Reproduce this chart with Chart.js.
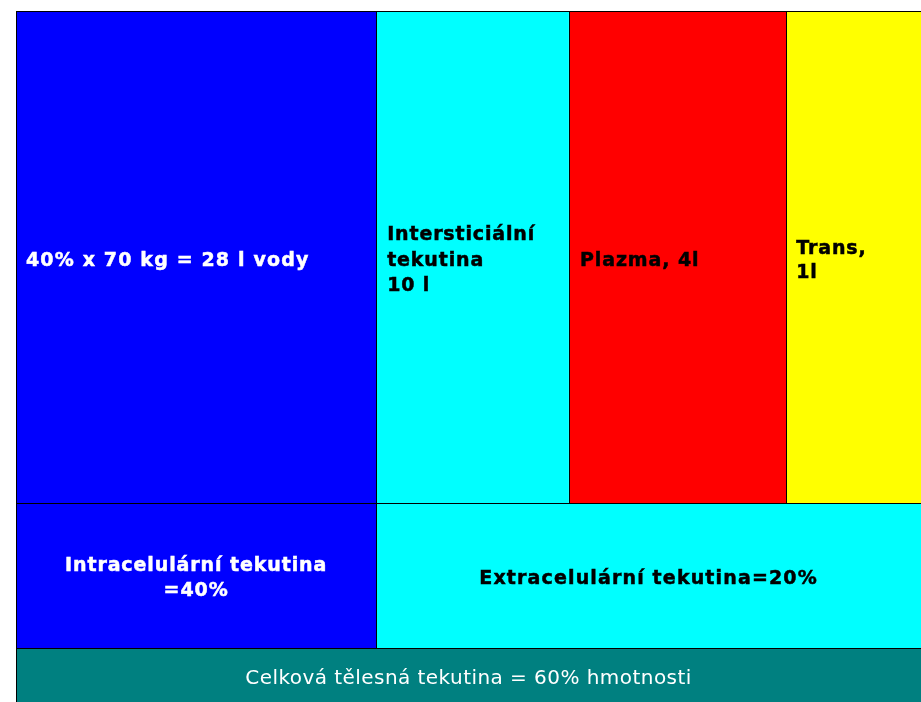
<!DOCTYPE html>
<html>
<head>
<meta charset="utf-8">
<script src="https://cdn.jsdelivr.net/npm/chart.js@4/dist/chart.umd.min.js"></script>
<style>
  html, body { margin: 0; padding: 0; background: #fff; }
  #wrap { width: 921px; height: 702px; }
</style>
</head>
<body>
<div id="wrap"><canvas id="chart"></canvas></div>
<script>
// Tělesné tekutiny – podíly (osa x i y v % celku)
const labels = [
    ['40% x 70 kg = 28 l vody'],
    ['Intersticiální', 'tekutina', '10 l'],
    ['Plazma, 4l'],
    ['Trans,', '1l'],
    ['Intracelulární tekutina', '=40%'],
    ['Extracelulární tekutina=20%'],
    ['Celková tělesná tekutina = 60% hmotnosti']
];
const xFrom = [0, 39.8, 61.1, 85.1, 0, 39.8, 0];
const xTo   = [39.8, 61.1, 85.1, 100, 39.8, 100, 100];
const yFrom = [28.8, 28.8, 28.8, 28.8, 7.8, 7.8, 0];
const yTo   = [100, 100, 100, 100, 28.8, 28.8, 7.8];
const colors = ['#0000ff', '#00ffff', '#ff0000', '#ffff00', '#0000ff', '#00ffff', '#008080'];

// jak psát popisky v jednotlivých polích
const textStyle = [
    { color: '#fff', font: 'bold 19px "DejaVu Sans"', spacing: 1.15, align: 'left', pad: 10, lh: 24, dy: 4 },
    { color: '#000', font: 'bold 19px "DejaVu Sans"', spacing: 0.85, align: 'left', pad: 11, lh: 25.5, dy: 4 },
    { color: '#000', font: 'bold 19px "DejaVu Sans"', spacing: 0.9, align: 'left', pad: 11, lh: 24, dy: 4 },
    { color: '#000', font: 'bold 19px "DejaVu Sans"', spacing: 0.9, align: 'left', pad: 10, lh: 24.5, dy: 4 },
    { color: '#fff', font: 'bold 19px "DejaVu Sans"', spacing: 0.9, align: 'center', pad: 0, lh: 24.5, dy: 3 },
    { color: '#000', font: 'bold 19px "DejaVu Sans"', spacing: 1.15, align: 'center', pad: 0, lh: 24, dy: 4 },
    { color: '#fff', font: '20px "DejaVu Sans"', spacing: 0.45, align: 'center', pad: 0, lh: 24, dy: 4 }
];

const datasets = labels.map((lab, i) => ({
    label: lab.join(' '),
    data: [{ x: xFrom[i], y: yTo[i] }, { x: xTo[i], y: yTo[i] }],
    showLine: true,
    borderWidth: 0,
    borderColor: 'rgba(0,0,0,0)',
    pointRadius: 0,
    backgroundColor: colors[i],
    fill: { value: yFrom[i] }
}));

const boxPlugin = {
    id: 'boxes',
    afterDatasetsDraw(chart) {
        const { ctx, scales: { x, y } } = chart;
        ctx.save();
        // okraje polí
        ctx.strokeStyle = '#000';
        ctx.lineWidth = 1;
        for (let i = 0; i < labels.length; i++) {
            const l = Math.round(x.getPixelForValue(xFrom[i])) + 0.5;
            const r = Math.round(x.getPixelForValue(xTo[i])) + 0.5;
            const t = Math.round(y.getPixelForValue(yTo[i])) + 0.5;
            const b = Math.round(y.getPixelForValue(yFrom[i])) + 0.5;
            ctx.strokeRect(l, t, r - l, b - t);
        }
        // popisky
        ctx.textBaseline = 'middle';
        labels.forEach((lines, i) => {
            const s = textStyle[i];
            const bold = s.font.startsWith('bold');
            const l = x.getPixelForValue(xFrom[i]);
            const r = x.getPixelForValue(xTo[i]);
            const cy = (y.getPixelForValue(yTo[i]) + y.getPixelForValue(yFrom[i])) / 2 + s.dy;
            ctx.font = s.font;
            ctx.fillStyle = s.color;
            ctx.strokeStyle = s.color;
            ctx.lineWidth = 0.5;
            ctx.letterSpacing = s.spacing + 'px';
            ctx.textAlign = s.align;
            const tx = s.align === 'left' ? l + s.pad : (l + r) / 2;
            const y0 = cy - (lines.length - 1) * s.lh / 2;
            lines.forEach((line, k) => {
                ctx.fillText(line, tx, y0 + k * s.lh);
                if (bold) ctx.strokeText(line, tx, y0 + k * s.lh);
            });
        });
        ctx.restore();
    }
};

new Chart(document.getElementById('chart'), {
    type: 'scatter',
    data: { datasets },
    options: {
        responsive: true,
        maintainAspectRatio: false,
        animation: false,
        layout: { padding: { left: 16, top: 11, right: 0, bottom: 0 } },
        plugins: {
            legend: { display: false },
            tooltip: { enabled: false }
        },
        scales: {
            x: { type: 'linear', min: 0, max: 100, display: false },
            y: { type: 'linear', min: 0, max: 100, display: false }
        }
    },
    plugins: [boxPlugin]
});
</script>
</body>
</html>
